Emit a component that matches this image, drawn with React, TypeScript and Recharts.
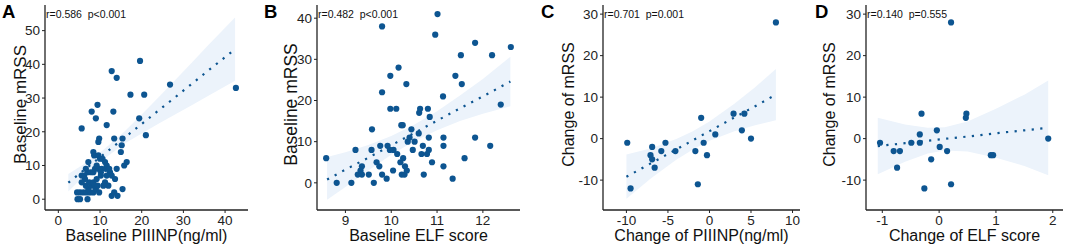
import { ComposedChart, Scatter, Line, Area, XAxis, YAxis } from 'recharts'

const FONT = "'Liberation Sans', Arial, Helvetica, sans-serif"
const DOT = '#0d5591'
const BAND = '#ecf3fb'
const AXIS = '#222222'

// A: baseline PIIINP vs baseline mRSS
const piiinpBase = [4.6, 5.2, 7.0, 4.5, 5.2, 6.0, 6.8, 7.6, 8.4, 9.0, 7.2, 6.6, 8.0, 8.8, 9.4, 7.4, 8.4, 9.2, 6.4, 11.2, 12.0, 10.8, 13.6, 12.8, 14.2, 13.4, 15.4, 5.6, 6.2, 7.0, 6.6, 7.8, 8.4, 8.8, 9.6, 10.4, 10.2, 11.4, 12.4, 12.8, 14.0, 7.2, 8.6, 8.4, 9.6, 10.0, 10.6, 11.2, 11.6, 9.2, 15.8, 16.4, 15.0, 15.2, 15.4, 13.4, 9.8, 9.6, 5.6, 11.6, 9.0, 8.0, 13.2, 9.4, 17.3, 20.6, 12.8, 14.0, 19.6, 26.8, 42.6, 19.4, 21.0, 10.2, 11.6, 12.2, 9.8, 5.6]
const mrssBaseA = [0, 0, 0, 2, 2, 2, 2, 2, 2, 3, 3, 4, 4, 4, 4, 5, 5, 6, 6, 5, 4, 4, 6, 1, 1, 2, 3, 7, 7, 8, 9, 8, 8, 9, 9, 9, 8, 9, 8, 7, 9, 11, 13, 14, 13, 12, 12, 11, 10, 10, 10, 11, 14, 16, 18, 18, 18, 17, 21, 22, 24, 26, 26, 28, 31, 31, 38, 36, 41, 34, 33, 24, 19, 7, 7, 9, 2, 5]
const fitXA = [2.4, 6, 11, 16, 20, 24, 28, 32, 36, 42.4]
const fitYA = [4.9, 8.5, 13.4, 18.4, 22.3, 26.3, 30.2, 34.2, 38.2, 44.5]
const loA = [2.3, 6.7, 12.0, 16.6, 19.5, 22.4, 25.1, 27.9, 30.7, 35.1]
const hiA = [7.5, 10.3, 14.8, 20.2, 25.1, 30.2, 35.3, 40.5, 45.7, 53.9]

// B: baseline ELF vs baseline mRSS
const elfBase = [8.58, 8.81, 9.13, 9.22, 9.27, 9.36, 9.33, 9.36, 9.51, 9.57, 9.58, 9.62, 9.68, 9.74, 9.76, 9.8, 9.8, 9.8, 9.9, 9.92, 9.97, 9.98, 9.98, 10.04, 10.05, 10.11, 10.13, 10.16, 10.2, 10.22, 10.25, 10.23, 10.26, 10.29, 10.3, 10.33, 10.34, 10.36, 10.4, 10.44, 10.47, 10.51, 10.6, 10.61, 10.63, 10.66, 10.69, 10.71, 10.78, 10.8, 10.82, 10.82, 10.84, 10.89, 10.96, 11.01, 11.13, 11.14, 11.14, 11.14, 11.34, 11.4, 11.52, 11.54, 11.6, 11.83, 11.83, 12.16, 12.2, 12.39, 12.61]
const mrssBaseB = [6, 0, 0, 8, 2, 4, 3, 2, 2, 8, 13, 0, 5, 4, 9, 22, 38, 2, 1, 9, 8, 26, 18, 3, 8, 18, 7, 28, 5, 14, 14, 2, 6, 2, 4, 24, 3, 10, 11, 13, 8, 10, 12, 17, 18, 7, 9, 2, 7, 18, 8, 11, 16, 5, 36, 41, 21, 9, 11, 4, 1, 26, 31, 24, 6, 34, 11, 9, 31, 19, 33]
const fitXB = [8.6, 9.0, 9.5, 10.0, 10.5, 11.0, 11.5, 12.0, 12.6]
const fitYB = [0.8, 3.2, 6.1, 9.1, 12.1, 15.1, 18.1, 21.0, 24.6]
const loB = [-4.1, -1.0, 3.0, 6.8, 10.1, 12.8, 15.0, 16.8, 18.6]
const hiB = [6.3, 7.4, 9.2, 11.4, 14.1, 17.4, 21.2, 25.2, 30.6]

// C: change of PIIINP vs change of mRSS
const piiinpChange = [8.0, -9.9, -9.5, -7.1, -6.9, -6.9, -6.6, -5.8, -5.3, -4.1, -1.7, -1.4, -1.0, -0.7, -0.3, 0.7, 2.9, 3.9, 4.2, 5.0]
const mrssChangeC = [28, -1, -12, -4, -2, -5, -7, -3, -1, -3, -3, -11, 5, -1, -4, 1, 6, 2, 6, 0]
const fitXC = [-10, -7, -4, -2, 0, 3, 5.5, 8]
const fitYC = [-9.2, -5.9, -2.6, -0.4, 1.8, 5.1, 7.8, 10.6]
const loC = [-14.5, -9.5, -5.1, -2.6, -0.5, 1.8, 3.2, 4.4]
const hiC = [-3.8, -2.3, -0.1, 1.8, 4.1, 8.4, 12.4, 16.8]

// D: change of ELF vs change of mRSS
const elfChange = [-1.04, -0.8, -0.69, -0.74, -0.49, -0.34, -0.34, -0.31, -0.26, -0.14, -0.04, 0.01, 0.14, 0.21, 0.21, 0.47, 0.48, 0.91, 0.95, 1.92]
const mrssChangeD = [-1, -3, -3, -7, -1, 1, -1, 6, -12, -5, 2, -2, -3, 28, -11, 5, 6, -4, -4, 0]
const fitXD = [-1.08, -0.6, -0.2, 0.1, 0.5, 1.0, 1.5, 1.92]
const fitYD = [-1.8, -1.1, -0.5, -0.05, 0.5, 1.3, 2.0, 2.6]
const loD = [-8.6, -5.6, -3.6, -2.85, -3.1, -4.6, -6.6, -8.8]
const hiD = [5.0, 3.4, 2.6, 2.75, 4.1, 7.2, 10.6, 14.0]

const toPoints = (xs: number[], ys: number[]) => xs.map((x, i) => ({ x, y: ys[i] }))
const toFit = (xs: number[], fit: number[], lo: number[], hi: number[]) =>
  xs.map((x, i) => ({ x, fit: fit[i], band: [lo[i], hi[i]] }))

const panels = [
  {
    letter: 'A', stat: 'r=0.586  p<0.001', xLabel: 'Baseline PIIINP(ng/ml)', yLabel: 'Baseline mRSS',
    points: toPoints(piiinpBase, mrssBaseA), fit: toFit(fitXA, fitYA, loA, hiA),
    xDomain: [-3.2, 45.5], xTicks: [0, 10, 20, 30, 40], yDomain: [-3.2, 57.6], yTicks: [0, 10, 20, 30, 40, 50],
    left: 0, width: 262, yWidth: 45, right: 14, yTitleX: 25.5, yTitleSize: 17, letterX: 2,
  },
  {
    letter: 'B', stat: 'r=0.482  p<0.001', xLabel: 'Baseline ELF score', yLabel: 'Baseline mRSS',
    points: toPoints(elfBase, mrssBaseB), fit: toFit(fitXB, fitYB, loB, hiB),
    xDomain: [8.38, 12.81], xTicks: [9, 10, 11, 12], yDomain: [-6.6, 43.2], yTicks: [0, 10, 20, 30, 40],
    left: 262, width: 266, yWidth: 55, right: 8, yTitleX: 34.5, yTitleSize: 17.5, letterX: 264,
  },
  {
    letter: 'C', stat: 'r=0.701  p=0.001', xLabel: 'Change of PIIINP(ng/ml)', yLabel: 'Change of mRSS',
    points: toPoints(piiinpChange, mrssChangeC), fit: toFit(fitXC, fitYC, loC, hiC),
    xDomain: [-12.82, 10.9], xTicks: [-10, -5, 0, 5, 10], yDomain: [-17.2, 32.2], yTicks: [-10, 0, 10, 20, 30],
    left: 528, width: 275, yWidth: 75, right: 3, yTitleX: 45.5, yTitleSize: 16, letterX: 541,
  },
  {
    letter: 'D', stat: 'r=0.140  p=0.555', xLabel: 'Change of ELF score', yLabel: 'Change of mRSS',
    points: toPoints(elfChange, mrssChangeD), fit: toFit(fitXD, fitYD, loD, hiD),
    xDomain: [-1.287, 2.18], xTicks: [-1, 0, 1, 2], yDomain: [-17.2, 32.2], yTicks: [-10, 0, 10, 20, 30],
    left: 803, width: 262, yWidth: 63, right: 2, yTitleX: 32, yTitleSize: 16, letterX: 815,
  },
]

const tickStyle = { fontSize: 13.5, fill: AXIS, fontFamily: FONT }

const Panel = ({ p }: { p: any }) => (
  <div style={{ position: 'absolute', left: p.left, top: 0 }}>
    <ComposedChart width={p.width} height={245} margin={{ top: 5, right: p.right, bottom: 0, left: 0 }}>
      <XAxis
        type="number"
        dataKey="x"
        domain={p.xDomain}
        ticks={p.xTicks}
        interval={0}
        allowDataOverflow
        height={35}
        tickSize={3}
        tickMargin={2}
        tick={tickStyle}
        tickLine={{ stroke: AXIS }}
        axisLine={{ stroke: AXIS, strokeWidth: 1.3 }}
        label={(lp: any) => {
          const vb = lp.viewBox
          return (
            <text x={vb.x + vb.width / 2} y={vb.y + 30.5} textAnchor="middle" fontSize={16} fontFamily={FONT} fill="#111">
              {p.xLabel}
            </text>
          )
        }}
      />
      <YAxis
        type="number"
        domain={p.yDomain}
        ticks={p.yTicks}
        interval={0}
        allowDataOverflow
        width={p.yWidth}
        tickSize={3}
        tickMargin={2}
        tick={tickStyle}
        tickLine={{ stroke: AXIS }}
        axisLine={{ stroke: AXIS, strokeWidth: 1.3 }}
        label={(lp: any) => {
          const vb = lp.viewBox
          const cy = vb.y + vb.height / 2 - 3
          return (
            <text x={p.yTitleX} y={cy} transform={`rotate(-90 ${p.yTitleX} ${cy})`} textAnchor="middle" fontSize={p.yTitleSize} fontFamily={FONT} fill="#111">
              {p.yLabel}
            </text>
          )
        }}
      />
      <Area data={p.fit} dataKey="band" type="linear" stroke="none" fill={BAND} fillOpacity={1} isAnimationActive={false} />
      <Scatter
        data={p.points}
        dataKey="y"
        isAnimationActive={false}
        shape={(sp: any) => <circle cx={sp.cx} cy={sp.cy} r={3.1} fill={DOT} />}
      />
      <Line
        data={p.fit}
        dataKey="fit"
        type="linear"
        stroke={DOT}
        strokeWidth={2.2}
        strokeDasharray="2.2 6.4"
        dot={false}
        activeDot={false}
        isAnimationActive={false}
      />
    </ComposedChart>
  </div>
)

export default function App() {
  return (
    <div style={{ position: 'absolute', left: 0, top: 0, width: 1065, height: 245, background: '#fff', fontFamily: FONT }}>
      {panels.map((p) => (
        <Panel key={p.letter} p={p} />
      ))}
      <svg width={1065} height={245} style={{ position: 'absolute', left: 0, top: 0, pointerEvents: 'none' }}>
        {panels.map((p) => (
          <g key={p.letter}>
            <text x={p.letterX} y={18.3} fontSize={18.5} fontWeight="bold" fontFamily={FONT} fill="#000">
              {p.letter}
            </text>
            <text x={p.left + p.yWidth + 1} y={18.3} fontSize={10.5} fontFamily={FONT} fill="#111" style={{ whiteSpace: 'pre' }}>
              {p.stat}
            </text>
          </g>
        ))}
      </svg>
    </div>
  )
}
